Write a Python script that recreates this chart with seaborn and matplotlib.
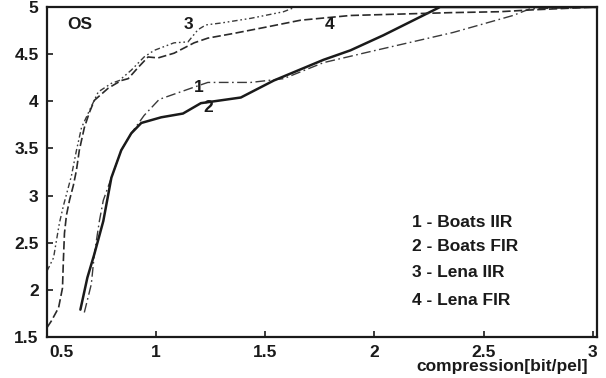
import numpy as np
import pandas as pd
import matplotlib
matplotlib.use("Agg")
import matplotlib.pyplot as plt
from matplotlib.transforms import ScaledTranslation
import seaborn as sns

# ---- data ----
boats_iir_x = [0.671, 0.703, 0.717, 0.740, 0.758, 0.795, 0.840, 0.886, 0.945, 1.014, 1.174, 1.237,
               1.434, 1.584, 1.767, 1.968, 2.361, 2.635, 2.712, 3.02]
boats_iir_y = [1.76, 2.06, 2.38, 2.73, 2.95, 3.19, 3.48, 3.66, 3.85, 4.02, 4.15, 4.20,
               4.20, 4.24, 4.41, 4.52, 4.73, 4.91, 4.98, 5.0]

boats_fir_x = [0.653, 0.685, 0.717, 0.758, 0.795, 0.840, 0.886, 0.932, 1.023, 1.123, 1.205, 1.388,
               1.539, 1.767, 1.890, 2.041, 2.301, 3.02]
boats_fir_y = [1.79, 2.13, 2.38, 2.73, 3.19, 3.48, 3.66, 3.77, 3.83, 3.87, 3.98, 4.04,
               4.22, 4.44, 4.54, 4.70, 5.0, 5.0]

lena_iir_x = [0.500, 0.530, 0.543, 0.557, 0.575, 0.612, 0.635, 0.658, 0.694, 0.735, 0.795, 0.831,
              0.886, 0.945, 0.991, 1.082, 1.146, 1.192, 1.228, 1.297, 1.434, 1.584, 1.639, 3.02]
lena_iir_y = [2.20, 2.34, 2.52, 2.71, 2.89, 3.21, 3.48, 3.72, 3.90, 4.10, 4.19, 4.22,
              4.33, 4.47, 4.54, 4.62, 4.63, 4.76, 4.81, 4.83, 4.88, 4.95, 5.0, 5.0]

lena_fir_x = [0.500, 0.520, 0.553, 0.571, 0.575, 0.580, 0.589, 0.603, 0.621, 0.635, 0.648, 0.671,
              0.694, 0.717, 0.781, 0.840, 0.872, 0.918, 0.963, 1.009, 1.082, 1.174, 1.237, 1.356,
              1.511, 1.662, 1.890, 2.347, 2.575, 2.726, 3.02]
lena_fir_y = [1.60, 1.67, 1.81, 2.02, 2.31, 2.60, 2.79, 2.95, 3.11, 3.27, 3.48, 3.72,
              3.88, 4.01, 4.14, 4.22, 4.24, 4.36, 4.47, 4.46, 4.51, 4.62, 4.67, 4.72,
              4.79, 4.86, 4.91, 4.94, 4.95, 4.97, 5.0]

legend_lines = ["1 - Boats IIR", "2 - Boats FIR", "3 - Lena IIR", "4 - Lena FIR"]
curve_numbers = ["1", "2", "3", "4"]
curve_label_x = [1.196, 1.238, 1.146, 1.796]
curve_label_y = [4.15, 3.93, 4.81, 4.81]

x_ticks = [0.5, 1, 1.5, 2, 2.5, 3]
x_ticklabels = ["0.5", "1", "1.5", "2", "2.5", "3"]
y_ticks = [1.5, 2, 2.5, 3, 3.5, 4, 4.5, 5]
y_ticklabels = ["1.5", "2", "2.5", "3", "3.5", "4", "4.5", "5"]

# ---- styling ----
sns.set_theme(style="white")
plt.rcParams["font.family"] = ["Liberation Sans", "DejaVu Sans"]
plt.rcParams["font.weight"] = "bold"

fig = plt.figure(figsize=(6.06, 3.78), dpi=100)
ax = fig.add_axes([47 / 606, 1 - 337 / 378, 550 / 606, 330 / 378])

series = [
    (boats_iir_x, boats_iir_y, (0, (7, 2.5, 1.2, 2.5)), 1.0, "#3a3a3a"),
    (boats_fir_x, boats_fir_y, "-", 1.8, "#1a1a1a"),
    (lena_iir_x, lena_iir_y, (0, (4, 2, 1.2, 2, 1.2, 2)), 1.0, "#3a3a3a"),
    (lena_fir_x, lena_fir_y, (0, (5, 2)), 1.2, "#2a2a2a"),
]
for (xs, ys, ls, lw, col), name in zip(series, legend_lines):
    df = pd.DataFrame({"x": xs, "y": ys})
    sns.lineplot(data=df, x="x", y="y", ax=ax, sort=False, estimator=None,
                 color=col, linewidth=lw, linestyle=ls)

ax.set_xlim(0.5, 3.02)
ax.set_ylim(1.5, 5.0)
ax.set_xticks(x_ticks)
ax.set_xticklabels(x_ticklabels)
ax.set_yticks(y_ticks)
ax.set_yticklabels(y_ticklabels)
ax.tick_params(axis="both", direction="in", length=4, width=1.2, colors="#1a1a1a",
               labelsize=12.5, pad=6, left=True, bottom=True)
for lab in ax.get_xticklabels() + ax.get_yticklabels():
    lab.set_fontweight("bold")
# first x tick label sits slightly to the right in the reference
first = ax.get_xticklabels()[0]
first.set_transform(first.get_transform() + ScaledTranslation(0.15, 0, fig.dpi_scale_trans))

for sp in ax.spines.values():
    sp.set_visible(True)
    sp.set_color("#1a1a1a")
    sp.set_linewidth(1.6)

ax.set_ylabel("")
ax.set_xlabel("compression[bit/pel]", loc="right", fontsize=12.5, fontweight="bold",
              color="#1a1a1a")
ax.xaxis.set_label_coords(0.984, -0.068)

ax.text(0.651, 4.81, "OS", fontsize=12.5, fontweight="bold", ha="center", va="center",
        color="#1a1a1a")
for t, tx, ty in zip(curve_numbers, curve_label_x, curve_label_y):
    ax.text(tx, ty, t, fontsize=12.5, fontweight="bold", ha="center", va="center",
            color="#1a1a1a")

legend_y = [0.348, 0.273, 0.194, 0.112]
for t, ly in zip(legend_lines, legend_y):
    ax.text(0.664, ly, t, transform=ax.transAxes, fontsize=12.5, fontweight="bold",
            ha="left", va="center", color="#1a1a1a")

fig.savefig("out.png", dpi=100, facecolor="white")
